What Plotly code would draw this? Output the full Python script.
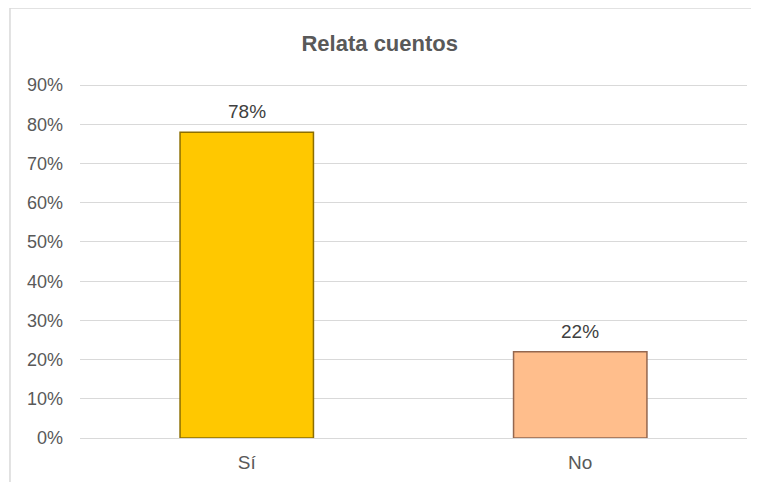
import plotly.graph_objects as go

categories = ["Sí", "No"]
values = [0.78, 0.22]
bar_colors = ["#FFC800", "#FFBE8C"]
edge_colors = ["#8C6E00", "#94674F"]
tick_vals = [0, 0.1, 0.2, 0.3, 0.4, 0.5, 0.6, 0.7, 0.8, 0.9]

FONT = "Liberation Sans, Arial"

fig = go.Figure()
fig.add_trace(go.Bar(
    x=categories, y=values,
    marker=dict(color=bar_colors, line=dict(color=edge_colors, width=1.5)),
    width=0.4,
    hoverinfo="x+y",
))

for c, v in zip(categories, values):
    fig.add_annotation(x=c, y=v, xref="x", yref="y", text=f"{v:.0%}",
                       showarrow=False, yanchor="bottom", yshift=8,
                       font=dict(family=FONT, size=19, color="#404040"))

fig.update_layout(
    width=751, height=474,
    margin=dict(l=72, r=12, t=76, b=44),
    paper_bgcolor="white", plot_bgcolor="white",
    showlegend=False,
    title=dict(text="<b>Relata cuentos</b>", x=0.495, xref="container", xanchor="center",
               y=0.926, yref="container", yanchor="middle",
               font=dict(family=FONT, size=22, color="#595959")),
    xaxis=dict(showgrid=False, showline=True, linecolor="#D9D9D9", linewidth=1,
               ticks="", ticklabelstandoff=7, automargin=False,
               tickfont=dict(family=FONT, size=19, color="#595959")),
    yaxis=dict(range=[0, 0.903], tickvals=tick_vals, tickformat=".0%",
               showgrid=True, gridcolor="#D9D9D9", gridwidth=1, zeroline=False,
               showline=False, ticks="", ticklabelstandoff=16, automargin=False,
               tickfont=dict(family=FONT, size=18, color="#595959")),
)

fig.add_shape(type="rect", xref="paper", yref="paper",
              x0=-0.105, x1=1.2, y0=-0.3, y1=1.215,
              line=dict(color="#D9D9D9", width=1.5), fillcolor="rgba(0,0,0,0)", layer="below")

fig.write_html("out.html")
